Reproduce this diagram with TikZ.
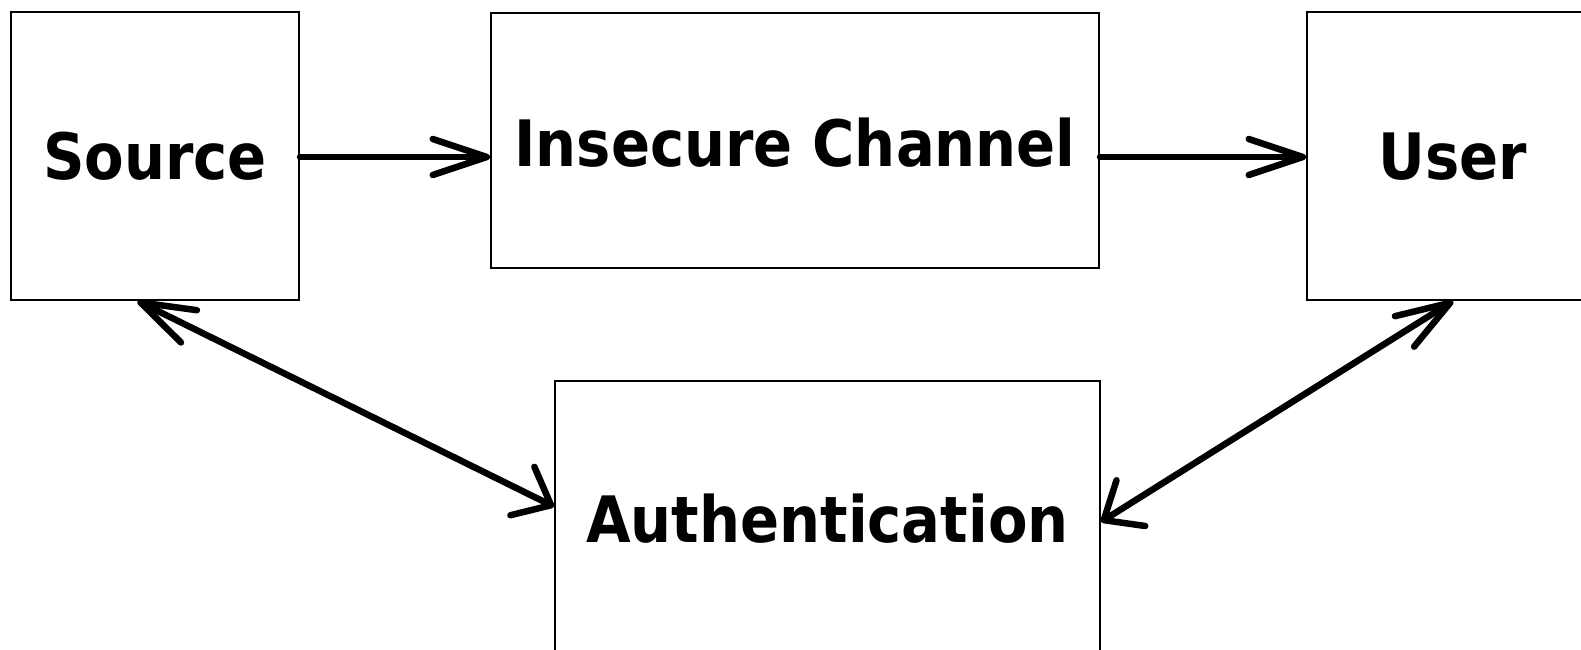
\documentclass[tikz,border=0pt]{standalone}
\usepackage{fontspec}
\newfontfamily\lbl{DejaVu Sans Bold}[FakeStretch=0.9]
\usetikzlibrary{arrows.meta,calc}
\begin{document}
\begin{tikzpicture}[x=1pt,y=-1pt,
  box/.style={draw=black,line width=2pt,inner sep=0pt,
    font=\lbl\fontsize{64}{70}\selectfont},
  conn/.style={line width=6.5pt,line cap=round,line join=round}]
\useasboundingbox (0,0) rectangle (1581,650);
\node[box,minimum width=288pt,minimum height=288pt,text height=47pt,text depth=0pt] (src) at (155,156) {Source};
\node[box,minimum width=608pt,minimum height=255pt,text height=51pt,text depth=0pt] (ins) at (795,140.5) {Insecure Channel};
\node[box,minimum width=292pt,minimum height=288pt,text height=47pt,text depth=0pt] (usr) at (1453,156) {User};
\node[box,minimum width=545pt,minimum height=344pt,text height=0pt,text depth=22pt] (auth) at (827.5,553) {Authentication};
\coordinate (srcb) at ($(src.south west)!0.44!(src.south east)$);
\coordinate (authl) at ($(auth.north west)!0.366!(auth.south west)$);
\coordinate (authr) at ($(auth.north east)!0.41!(auth.south east)$);
\draw[conn,-{Straight Barb[length=54pt,width=36pt,round]}] ($(src.east)+(0,1)$) -- ($(src.east -| ins.west)+(0,1)$);
\draw[conn,-{Straight Barb[length=54pt,width=36pt,round]}] ($(usr.west -| ins.east)+(0,1)$) -- ($(usr.west)+(0,1)$);
\draw[conn,{Straight Barb[length=54pt,width=36pt,round]}-{Straight Barb[length=32pt,width=54pt,round]}] (srcb) -- (authl);
\draw[conn,{Straight Barb[length=32pt,width=54pt,round]}-{Straight Barb[length=54pt,width=36pt,round]}] (authr) -- (usr.south);
\end{tikzpicture}
\end{document}
